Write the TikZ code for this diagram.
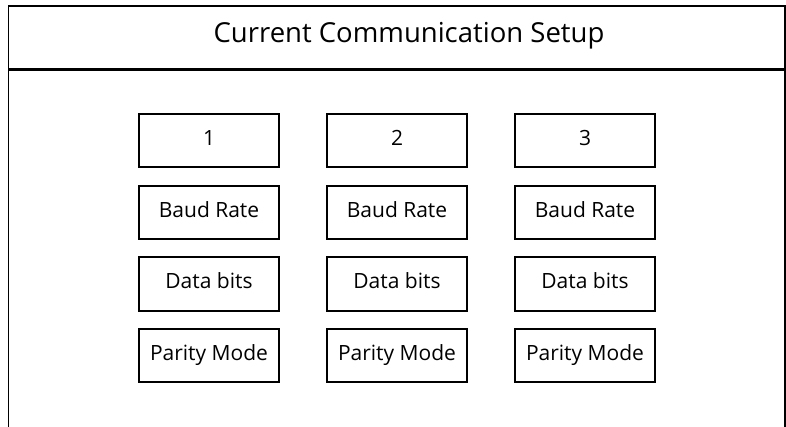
\documentclass[tikz,border=0pt]{standalone}
\usepackage{fontspec}
\setmainfont{Open Sans}
\begin{document}
\begin{tikzpicture}[x=1pt,y=-1pt,
  cell/.style={draw,line width=2pt,minimum width=140pt,minimum height=53pt,inner sep=0pt,text height=15pt,text depth=5pt,font=\fontsize{21}{24}\selectfont},
  frame/.style={draw,line width=1.6pt}]
\useasboundingbox (0,0) rectangle (786,427);
\clip (0,0) rectangle (786,427);
\draw[frame] (8.5,440) -- (8.5,6) -- (785,6) -- (785,440);
\draw[line width=2.2pt] (8.5,69.5) coordinate (tl) -- (785,69.5) coordinate (tr);
\node[font=\fontsize{27.5}{32}\selectfont,anchor=base,inner sep=0pt] (title) at (409,43) {Current Communication Setup};
\foreach \c/\x in {1/209,2/397,3/585}{
  \node[cell] (h\c) at (\x,140.5) {\c};
  \node[cell] (b\c) at (\x,212.5) {Baud Rate};
  \node[cell] (d\c) at (\x,284) {Data bits};
  \node[cell] (p\c) at (\x,355.5) {Parity Mode};
}
\end{tikzpicture}
\end{document}
